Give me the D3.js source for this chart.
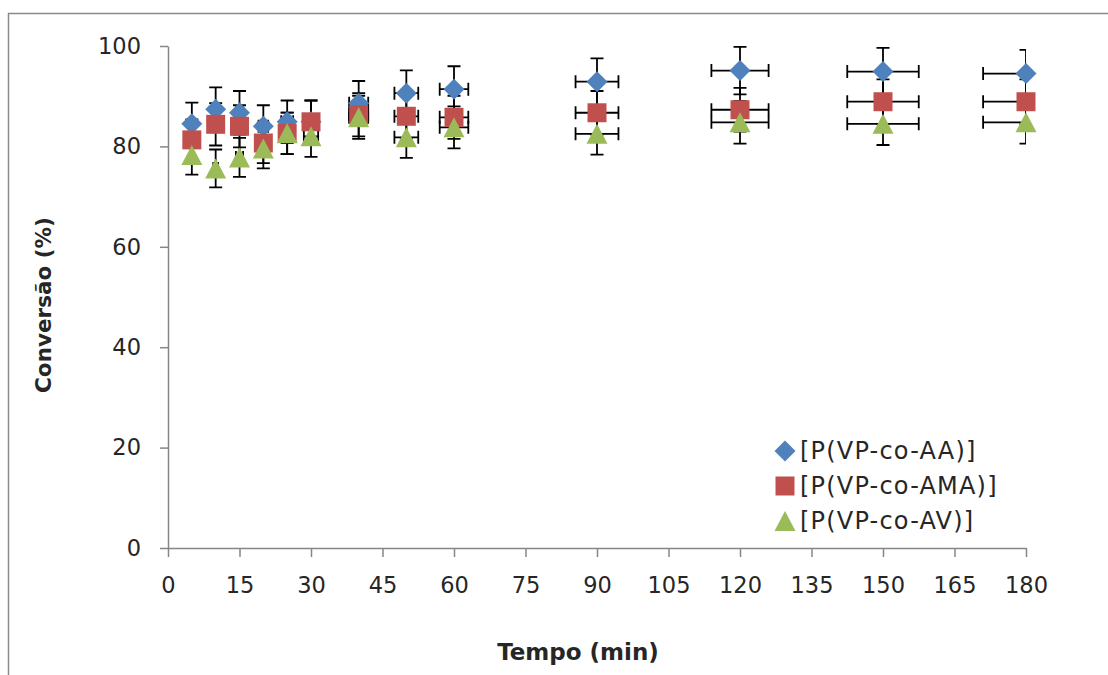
<!DOCTYPE html>
<html>
<head>
<meta charset="utf-8">
<script src="https://cdn.jsdelivr.net/npm/d3@7"></script>
<style>
  html, body { margin: 0; padding: 0; background: #fff; }
  svg { display: block; }
  text { font-family: "DejaVu Sans", Verdana, sans-serif; fill: #262626; }
</style>
</head>
<body>
<svg id="chart" width="1108" height="675"></svg>
<script>
// Reaction time (min) for each sample
const tempo = [5, 10, 15, 20, 25, 30, 40, 50, 60, 90, 120, 150, 180];

// Conversion (%) per copolymer
const convAA  = [84.5, 87.4, 86.7, 84.0, 84.9, 84.9, 88.6, 90.6, 91.4, 92.9, 95.1, 94.9, 94.5];
const convAMA = [81.3, 84.4, 84.0, 80.7, 82.6, 84.9, 86.3, 86.0, 85.8, 86.7, 87.3, 88.9, 88.9];
const convAV  = [78.3, 75.6, 77.8, 79.6, 82.6, 82.0, 85.8, 81.8, 83.8, 82.5, 84.8, 84.5, 84.8];

const seriesNames = ["[P(VP-co-AA)]", "[P(VP-co-AMA)]", "[P(VP-co-AV)]"];
const xTicks = [0, 15, 30, 45, 60, 75, 90, 105, 120, 135, 150, 165, 180];
const yTicks = [0, 20, 40, 60, 80, 100];

// Error bars on both axes are a fixed percentage of each value
const errorPercent = 5;

const series = [
  { name: seriesNames[0], values: convAA,  color: "#4F81BD", shape: "diamond" },
  { name: seriesNames[1], values: convAMA, color: "#C0504D", shape: "square" },
  { name: seriesNames[2], values: convAV,  color: "#9BBB59", shape: "triangle" }
];

const svg = d3.select("#chart");
const plot = { left: 168, right: 1026, top: 46, bottom: 548 };

const x = d3.scaleLinear().domain([0, 180]).range([plot.left, plot.right]);
const y = d3.scaleLinear().domain([0, 100]).range([plot.bottom, plot.top]);

// Chart-area frame (runs off the right and bottom edges)
svg.append("rect")
  .attr("x", 8.5).attr("y", 13.5)
  .attr("width", 1130).attr("height", 700)
  .attr("fill", "none")
  .attr("stroke", "#8a8a8a")
  .attr("stroke-width", 1.5);

// Axes
const axisColor = "#868686";
const yAxis = svg.append("g")
  .attr("transform", `translate(${plot.left},0)`)
  .call(d3.axisLeft(y).tickValues(yTicks).tickSize(8).tickSizeOuter(0).tickPadding(19));
const xAxis = svg.append("g")
  .attr("transform", `translate(0,${plot.bottom})`)
  .call(d3.axisBottom(x).tickValues(xTicks).tickSize(9).tickSizeOuter(0).tickPadding(20));

[xAxis, yAxis].forEach(g => {
  g.select(".domain").attr("stroke", axisColor).attr("stroke-width", 1.5);
  g.selectAll(".tick line").attr("stroke", axisColor).attr("stroke-width", 1.5);
  g.selectAll(".tick text")
    .attr("fill", "#262626")
    .style("font-family", "'DejaVu Sans', Verdana, sans-serif")
    .style("font-size", "22.5px");
});

// Axis titles
svg.append("text")
  .attr("x", 578).attr("y", 652)
  .attr("text-anchor", "middle")
  .attr("dominant-baseline", "central")
  .style("font-weight", "bold")
  .style("font-size", "23px")
  .text("Tempo (min)");

svg.append("text")
  .attr("transform", "translate(43,305) rotate(-90)")
  .attr("text-anchor", "middle")
  .attr("dominant-baseline", "central")
  .style("font-weight", "bold")
  .style("font-size", "21.5px")
  .text("Conversão (%)");

// Error bars, clipped to the plot area
svg.append("clipPath").attr("id", "plot-clip")
  .append("rect")
  .attr("x", plot.left).attr("y", plot.top)
  .attr("width", plot.right - plot.left)
  .attr("height", plot.bottom - plot.top);

const errLayer = svg.append("g").attr("clip-path", "url(#plot-clip)");
const cap = 6.5;
const f = errorPercent / 100;

series.forEach(s => {
  s.values.forEach((v, i) => {
    const t = tempo[i];
    const cx = x(t), cy = y(v);
    const yHi = y(v * (1 + f)), yLo = y(v * (1 - f));
    const xLo = x(t * (1 - f)), xHi = x(t * (1 + f));
    const path = d3.path();
    // vertical bar + caps
    path.moveTo(cx, yHi); path.lineTo(cx, yLo);
    path.moveTo(cx - cap, yHi); path.lineTo(cx + cap, yHi);
    path.moveTo(cx - cap, yLo); path.lineTo(cx + cap, yLo);
    // horizontal bar + caps
    path.moveTo(xLo, cy); path.lineTo(xHi, cy);
    path.moveTo(xLo, cy - cap); path.lineTo(xLo, cy + cap);
    path.moveTo(xHi, cy - cap); path.lineTo(xHi, cy + cap);
    errLayer.append("path")
      .attr("d", path.toString())
      .attr("fill", "none")
      .attr("stroke", "#000")
      .attr("stroke-width", 1.8);
  });
});

// Marker shapes
function markerPath(shape, cx, cy) {
  const p = d3.path();
  if (shape === "diamond") {
    const r = 10.5;
    p.moveTo(cx, cy - r); p.lineTo(cx + r, cy); p.lineTo(cx, cy + r); p.lineTo(cx - r, cy); p.closePath();
  } else if (shape === "square") {
    const h = 9.5;
    p.rect(cx - h, cy - h, 2 * h, 2 * h);
  } else {
    const w = 10.5, h = 10;
    p.moveTo(cx, cy - h); p.lineTo(cx + w, cy + h); p.lineTo(cx - w, cy + h); p.closePath();
  }
  return p.toString();
}

const markLayer = svg.append("g");
series.forEach(s => {
  markLayer.selectAll(null)
    .data(s.values.map((v, i) => ({ t: tempo[i], v })))
    .join("path")
    .attr("d", d => markerPath(s.shape, x(d.t), y(d.v)))
    .attr("fill", s.color);
});

// Legend
const legend = svg.append("g");
const legendY = [451, 486, 521];
series.forEach((s, i) => {
  legend.append("path")
    .attr("d", markerPath(s.shape, 785, legendY[i]))
    .attr("fill", s.color);
  legend.append("text")
    .attr("x", 800).attr("y", legendY[i])
    .attr("dominant-baseline", "central")
    .style("font-size", "24px")
    .style("letter-spacing", "1.2px")
    .text(s.name);
});
</script>
</body>
</html>
